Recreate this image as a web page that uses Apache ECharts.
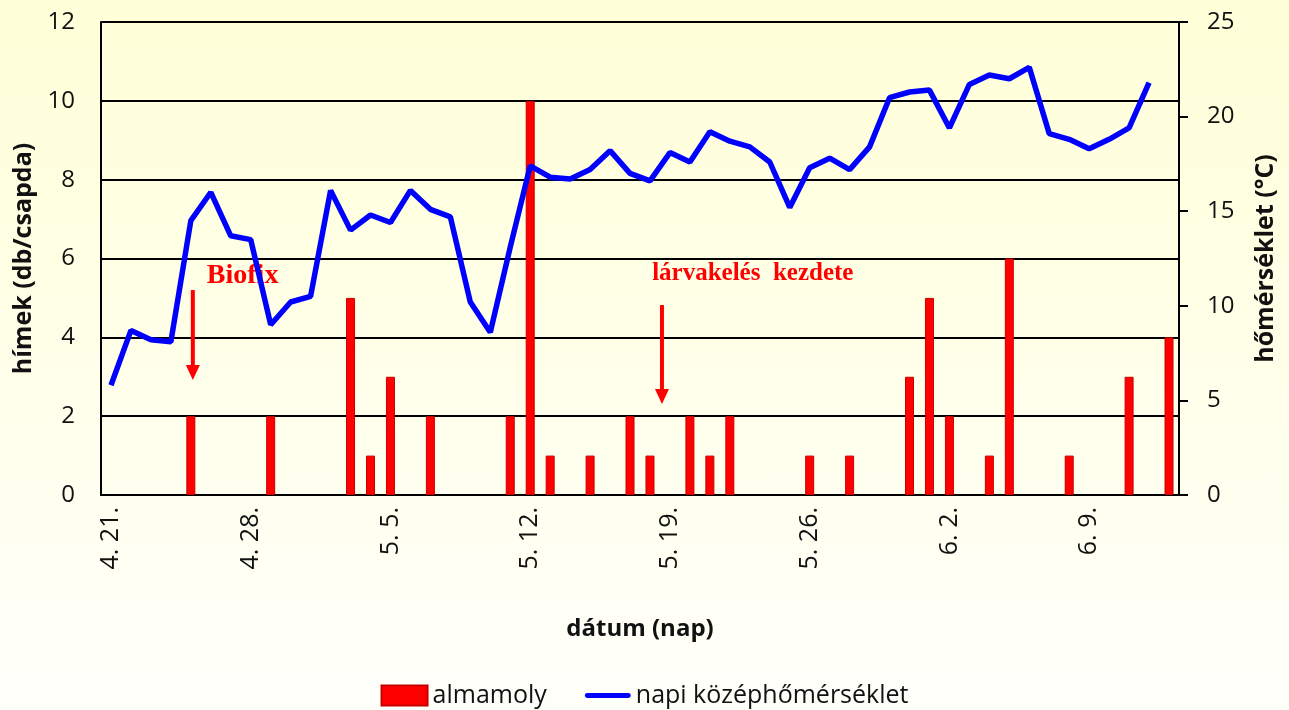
<!DOCTYPE html>
<html lang="hu">
  <head>
    <meta charset="UTF-8" />
    <title>Almamoly</title>
    <script src="https://cdn.jsdelivr.net/npm/echarts@6.0.0/dist/echarts.min.js"></script>
    <style>
      html,
      body {
        margin: 0;
        padding: 0;
        background: linear-gradient(#ffffd8, #fffffa);
      }
      #chart {
        width: 1289px;
        height: 710px;
      }
    </style>
  </head>
  <body>
    <div id="chart"></div>
    <script>
      const days = [
        "4. 21.", "4. 22.", "4. 23.", "4. 24.", "4. 25.", "4. 26.", "4. 27.",
        "4. 28.", "4. 29.", "4. 30.", "5. 1.", "5. 2.", "5. 3.", "5. 4.",
        "5. 5.", "5. 6.", "5. 7.", "5. 8.", "5. 9.", "5. 10.", "5. 11.",
        "5. 12.", "5. 13.", "5. 14.", "5. 15.", "5. 16.", "5. 17.", "5. 18.",
        "5. 19.", "5. 20.", "5. 21.", "5. 22.", "5. 23.", "5. 24.", "5. 25.",
        "5. 26.", "5. 27.", "5. 28.", "5. 29.", "5. 30.", "5. 31.", "6. 1.",
        "6. 2.", "6. 3.", "6. 4.", "6. 5.", "6. 6.", "6. 7.", "6. 8.",
        "6. 9.", "6. 10.", "6. 11.", "6. 12.", "6. 13."
      ];

      // almamoly hímek csapdánként
      const moths = [
        0, 0, 0, 0, 2, 0, 0, 0, 2, 0, 0, 0, 5, 1, 3, 0, 2, 0, 0, 0, 2,
        10, 1, 0, 1, 0, 2, 1, 0, 2, 1, 2, 0, 0, 0, 1, 0, 1, 0, 0, 3, 5,
        2, 0, 1, 6, 0, 0, 1, 0, 0, 3, 0, 4
      ];

      // napi középhőmérséklet (°C)
      const temps = [
        5.8, 8.7, 8.2, 8.1, 14.5, 16.0, 13.7, 13.5, 9.0, 10.2, 10.5, 16.1,
        14.0, 14.8, 14.4, 16.1, 15.1, 14.7, 10.2, 8.6, 13.1, 17.4, 16.8,
        16.7, 17.2, 18.2, 17.0, 16.6, 18.1, 17.6, 19.2, 18.7, 18.4, 17.6,
        15.2, 17.3, 17.8, 17.2, 18.4, 21.0, 21.3, 21.4, 19.4, 21.7, 22.2,
        22.0, 22.6, 19.1, 18.8, 18.3, 18.8, 19.4, 21.8, null
      ];

      const font = "'Open Sans', sans-serif";
      const serif = "'Liberation Serif', 'DejaVu Serif', serif";

      const chart = echarts.init(document.getElementById("chart"));

      const nameStyle = {
        fontFamily: font,
        fontSize: 25,
        fontWeight: "bold",
        color: "#111"
      };

      const option = {
        backgroundColor: "transparent",
        animation: false,
        grid: { left: 101, right: 110, top: 22, bottom: 215 },
        legend: {
          left: "center",
          top: 678,
          itemWidth: 46,
          itemHeight: 20,
          itemGap: 38,
          textStyle: { fontFamily: font, fontSize: 25, color: "#111" },
          data: [
            { name: "almamoly", icon: "rect" },
            {
              name: "napi középhőmérséklet",
              icon: "path://M2,0 L44,0 A2.5,2.5 0 0 1 44,5 L2,5 A2.5,2.5 0 0 1 2,0 Z"
            }
          ]
        },
        xAxis: {
          type: "category",
          data: days,
          name: "dátum (nap)",
          nameLocation: "middle",
          nameGap: 122,
          nameTextStyle: Object.assign({}, nameStyle, { fontSize: 24 }),
          axisLine: { lineStyle: { color: "#000", width: 2 } },
          axisTick: {
            interval: 6,
            length: 9,
            lineStyle: { color: "#000", width: 2 }
          },
          axisLabel: {
            interval: 6,
            rotate: 90,
            margin: 12,
            fontFamily: font,
            fontSize: 25,
            color: "#111"
          }
        },
        yAxis: [
          {
            type: "value",
            min: 0,
            max: 12,
            interval: 2,
            name: "hímek (db/csapda)",
            nameLocation: "middle",
            nameRotate: 90,
            nameGap: 57,
            nameTextStyle: nameStyle,
            axisLine: { show: true, lineStyle: { color: "#000", width: 2 } },
            axisTick: { show: false },
            axisLabel: {
              margin: 26,
              fontFamily: font,
              fontSize: 24,
              color: "#111"
            },
            splitLine: { lineStyle: { color: "#000", width: 2 } }
          },
          {
            type: "value",
            min: 0,
            max: 25,
            interval: 5,
            position: "right",
            name: "hőmérséklet (°C)",
            nameLocation: "middle",
            nameRotate: 90,
            nameGap: 74,
            nameTextStyle: nameStyle,
            axisLine: { show: true, lineStyle: { color: "#000", width: 2 } },
            axisTick: { show: true, length: 9, lineStyle: { color: "#000", width: 2 } },
            axisLabel: {
              margin: 28,
              fontFamily: font,
              fontSize: 24,
              color: "#111"
            },
            splitLine: { show: false }
          }
        ],
        series: [
          {
            name: "almamoly",
            type: "bar",
            yAxisIndex: 0,
            barWidth: 9,
            itemStyle: {
              color: "#ff0000",
              borderColor: "#c80000",
              borderWidth: 1
            },
            data: moths.map((v) => (v ? v : "-"))
          },
          {
            name: "napi középhőmérséklet",
            type: "line",
            yAxisIndex: 1,
            showSymbol: false,
            symbol: "none",
            lineStyle: { color: "#0000ff", width: 5.5 },
            itemStyle: { color: "#0000ff" },
            data: temps
          }
        ]
      };

      chart.setOption(option);

      // nyilak és feliratok
      function arrow(x, y1, y2) {
        return [
          {
            type: "line",
            shape: { x1: x, y1: y1, x2: x, y2: y2 - 12 },
            style: { stroke: "#ff0000", lineWidth: 4 }
          },
          {
            type: "polygon",
            shape: { points: [[x - 7, y2 - 15], [x + 7, y2 - 15], [x, y2]] },
            style: { fill: "#ff0000" }
          }
        ];
      }

      function px(cat, val) {
        return chart.convertToPixel({ xAxisIndex: 0, yAxisIndex: 0 }, [cat, val]);
      }

      const band = px(1, 0)[0] - px(0, 0)[0];
      const a1top = px("4. 25.", 5.2);
      const a1tip = px("4. 25.", 2.92);
      const a2top = px("5. 19.", 4.82);
      const a2tip = px("5. 19.", 2.31);
      const t1 = px("4. 25.", 5.55);
      const t2 = px("5. 23.", 5.63);

      chart.setOption({
        graphic: [
          ...arrow(a1top[0] + 2, a1top[1], a1tip[1]),
          ...arrow(a2top[0] - band / 2 + 2, a2top[1], a2tip[1]),
          {
            type: "text",
            x: t1[0] + 16,
            y: t1[1],
            style: {
              text: "Biofix",
              fill: "#ff0000",
              font: "bold 28px " + serif,
              verticalAlign: "middle"
            }
          },
          {
            type: "text",
            x: t2[0] + 3,
            y: t2[1],
            style: {
              text: "lárvakelés  kezdete",
              fill: "#ff0000",
              font: "bold 25px " + serif,
              align: "center",
              verticalAlign: "middle"
            }
          }
        ]
      });
    </script>
  </body>
</html>
